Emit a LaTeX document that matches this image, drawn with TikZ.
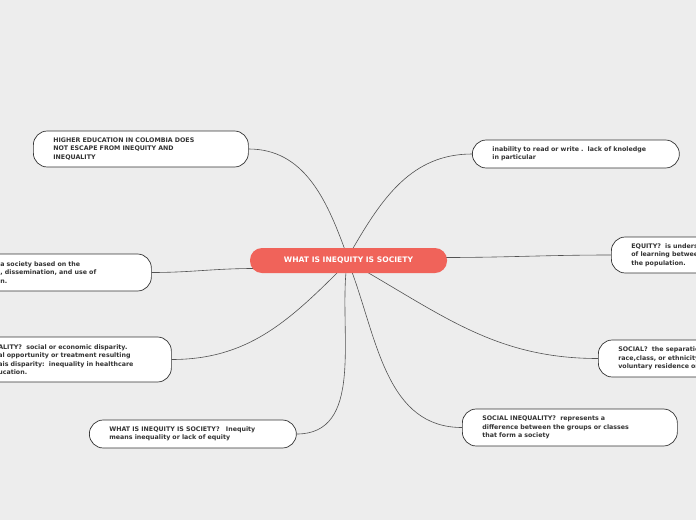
\documentclass[tikz,border=0pt]{standalone}
\usepackage{fontspec}
\setmainfont{DejaVu Sans}
\usetikzlibrary{backgrounds}
\definecolor{paper}{RGB}{237,237,237}
\definecolor{topic}{RGB}{240,99,90}
\definecolor{ink}{RGB}{51,51,51}
\tikzset{
  idea/.style={draw=ink, fill=white, rounded corners=14pt, line width=0.7pt,
    anchor=west, align=left, inner xsep=20pt, inner ysep=4pt,
    font=\fontsize{6.3}{8.3}\selectfont\bfseries, text=ink},
  link/.style={draw=ink!85, line width=0.6pt}
}
\begin{document}
\begin{tikzpicture}[x=1pt, y=-1pt]
\clip (0,0) rectangle (696,520);

% main topic
\node[fill=topic, rounded corners=12pt, minimum width=197pt, minimum height=25pt,
  text=white, font=\fontsize{7.6}{9}\selectfont\bfseries] (ctr) at (348.5,260.5) {WHAT IS INEQUITY IS SOCIETY};

% left side
\node[idea, text width=175pt, minimum height=36pt] (high) at (33,149)
  {HIGHER EDUCATION IN COLOMBIA DOES\\NOT ESCAPE FROM INEQUITY AND\\INEQUALITY};
\node[idea, inner xsep=2pt, text width=167pt, minimum height=37pt] (know) at (-20,272.5)
  {\hspace*{18pt}a society based on the\\\hspace*{18pt}, dissemination, and use of\\\hspace*{18pt}n.};
\node[idea, inner xsep=2pt, text width=187pt, minimum height=45pt] (ineq) at (-20,359.5)
  {\hspace*{16pt}ALITY?\ \ social or economic disparity.\\\hspace*{16pt}al opportunity or treatment resulting\\\hspace*{16pt}ais disparity:\ \ inequality in healthcare\\\hspace*{16pt}ucation.};
\node[idea, text width=167pt, minimum height=28pt] (what) at (89,434)
  {WHAT IS INEQUITY IS SOCIETY?\ \ \ Inequity\\means inequality or lack of equity};

% right side
\node[idea, text width=167pt, minimum height=28pt] (illit) at (472,154)
  {inability to read or write .\ \ lack of knoledge\\in particular};
\node[idea, text width=150pt, minimum height=36pt] (equ) at (611,255)
  {EQUITY?\ \ is understood the equality\\of learning between all sectors of\\the population.};
\node[idea, text width=150pt, minimum height=37pt] (soc) at (598,358.5)
  {SOCIAL?\ \ the separation of groups by\\race,class, or ethnicity, either by\\voluntary residence or by force.};
\node[idea, text width=175pt, minimum height=37pt] (sineq) at (462,427.5)
  {SOCIAL INEQUALITY?\ \ represents a\\difference between the groups or classes\\that form a society};

% connectors
\begin{scope}[on background layer]
\fill[paper] (0,0) rectangle (696,520);
\draw[link] (345,250) to[out=110, in=0] (high.east);
\draw[link] (ctr.west) ++(4,8) to[out=180, in=0] (know.east);
\draw[link] (340,270) to[out=225, in=0] (ineq.east);
\draw[link] (346,272) to[out=265, in=0] (what.east);
\draw[link] (352,250) to[out=60, in=180] (illit.west);
\draw[link] (ctr.east) ++(-4,-3) to[out=0, in=180] (equ.west);
\draw[link] (360,268) to[out=-30, in=180] (soc.west);
\draw[link] (352,272) to[out=-70, in=180] (sineq.west);
\end{scope}
\end{tikzpicture}
\end{document}
